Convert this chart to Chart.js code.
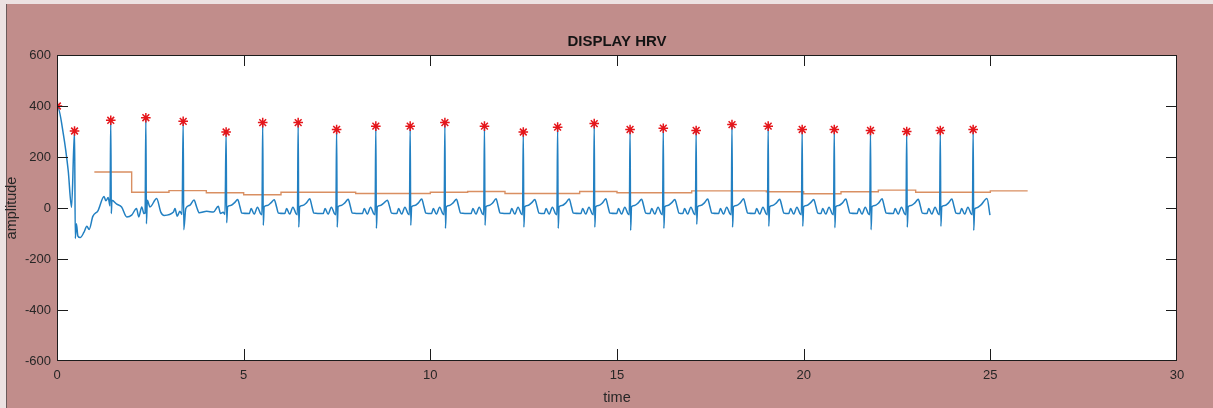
<!DOCTYPE html>
<html>
<head>
<meta charset="utf-8">
<title>DISPLAY HRV</title>
<script src="https://cdn.jsdelivr.net/npm/chart.js@4.4.1/dist/chart.umd.min.js"></script>
<style>
  html, body { margin: 0; padding: 0; background: #c18d8b; }
  canvas { display: block; }
</style>
</head>
<body>
<canvas id="hrvChart" width="1213" height="408"></canvas>
<script>
// ECG trace: [time (s), amplitude]
const ecgPoints = [
  [0.00,-580],[0.01,400],[0.17,290],[0.30,147],[0.39,3],[0.47,302],[0.49,-120],[0.52,-62],[0.56,-110],
  [0.62,-116],[0.72,-96],[0.80,-72],[0.86,-84],[0.96,-33],[1.10,-10],[1.26,45],[1.31,28],[1.37,41],[1.42,8],
  [1.44,344],[1.455,-22],[1.47,30],[1.60,15],[1.73,4],[1.87,-35],[2.00,-28],[2.13,-2],[2.19,-35],[2.27,4],[2.33,-22],[2.36,-20],
  [2.38,354],[2.395,-62],[2.42,30],[2.49,4],[2.67,37],[2.78,-16],[2.87,-29],[3.12,-16],[3.16,-2],[3.22,-32],[3.29,-13],[3.35,-25],
  [3.38,340],[3.395,-85],[3.45,-2],[3.56,11],[3.67,31],[3.74,4],[3.81,-19],[4.01,-13],[4.19,-16],[4.32,7],[4.38,-22],[4.45,-17],[4.50,-25],
  [4.53,298],[4.545,-58],[4.57,5],[4.65,10],[4.75,20],[4.84,33],[4.90,5],[4.95,-20],[5.15,-22],[5.20,-2],[5.28,-24],[5.37,3],[5.45,-22],[5.49,-26],
  [5.51,335],[5.525,-68],[5.55,5],[5.63,10],[5.73,20],[5.82,32],[5.88,5],[5.93,-20],[6.10,-22],[6.15,-2],[6.23,-24],[6.32,3],[6.40,-22],[6.44,-26],
  [6.46,335],[6.475,-75],[6.50,5],[6.58,10],[6.68,20],[6.77,36],[6.83,5],[6.88,-20],[7.13,-22],[7.18,-2],[7.26,-24],[7.35,3],[7.43,-22],[7.47,-26],
  [7.49,308],[7.505,-75],[7.53,5],[7.61,10],[7.71,20],[7.80,34],[7.86,5],[7.91,-20],[8.18,-22],[8.23,-2],[8.31,-24],[8.40,3],[8.48,-22],[8.52,-26],
  [8.54,321],[8.555,-80],[8.58,5],[8.66,10],[8.76,20],[8.85,30],[8.91,5],[8.96,-20],[9.10,-22],[9.15,-2],[9.23,-24],[9.32,3],[9.40,-22],[9.44,-26],
  [9.46,321],[9.475,-68],[9.50,5],[9.58,10],[9.68,20],[9.77,35],[9.83,5],[9.88,-20],[10.03,-22],[10.08,-2],[10.16,-24],[10.25,3],[10.33,-22],[10.37,-26],
  [10.39,335],[10.405,-80],[10.43,5],[10.51,10],[10.61,20],[10.70,34],[10.76,5],[10.81,-20],[11.09,-22],[11.14,-2],[11.22,-24],[11.31,3],[11.39,-22],[11.43,-26],
  [11.45,321],[11.465,-68],[11.49,5],[11.57,10],[11.67,20],[11.76,36],[11.82,5],[11.87,-20],[12.13,-22],[12.18,-2],[12.26,-24],[12.35,3],[12.43,-22],[12.47,-26],
  [12.49,298],[12.505,-75],[12.53,5],[12.61,10],[12.71,20],[12.80,33],[12.86,5],[12.91,-20],[13.05,-22],[13.10,-2],[13.18,-24],[13.27,3],[13.35,-22],[13.39,-26],
  [13.41,317],[13.425,-80],[13.45,5],[13.53,10],[13.63,20],[13.72,35],[13.78,5],[13.83,-20],[14.03,-22],[14.08,-2],[14.16,-24],[14.25,3],[14.33,-22],[14.37,-26],
  [14.39,331],[14.405,-75],[14.43,5],[14.51,10],[14.61,20],[14.70,36],[14.76,5],[14.81,-20],[14.99,-22],[15.04,-2],[15.12,-24],[15.21,3],[15.29,-22],[15.33,-26],
  [15.35,308],[15.365,-88],[15.39,5],[15.47,10],[15.57,20],[15.66,34],[15.72,5],[15.77,-20],[15.88,-22],[15.93,-2],[16.01,-24],[16.10,3],[16.18,-22],[16.22,-26],
  [16.24,313],[16.255,-80],[16.28,5],[16.36,10],[16.46,20],[16.55,33],[16.61,5],[16.66,-20],[16.76,-22],[16.81,-2],[16.89,-24],[16.98,3],[17.06,-22],[17.10,-26],
  [17.12,304],[17.135,-64],[17.16,5],[17.24,10],[17.34,20],[17.43,35],[17.49,5],[17.54,-20],[17.72,-22],[17.77,-2],[17.85,-24],[17.94,3],[18.02,-22],[18.06,-26],
  [18.08,327],[18.095,-75],[18.12,5],[18.20,10],[18.30,20],[18.39,36],[18.45,5],[18.50,-20],[18.69,-22],[18.74,-2],[18.82,-24],[18.91,3],[18.99,-22],[19.03,-26],
  [19.05,321],[19.065,-72],[19.09,5],[19.17,10],[19.27,20],[19.36,34],[19.42,5],[19.47,-20],[19.60,-22],[19.65,-2],[19.73,-24],[19.82,3],[19.90,-22],[19.94,-26],
  [19.96,308],[19.975,-72],[20.00,5],[20.08,10],[20.18,20],[20.27,33],[20.33,5],[20.38,-20],[20.46,-22],[20.51,-2],[20.59,-24],[20.68,3],[20.76,-22],[20.80,-26],
  [20.82,308],[20.835,-77],[20.86,5],[20.94,10],[21.04,20],[21.13,35],[21.19,5],[21.24,-20],[21.43,-22],[21.48,-2],[21.56,-24],[21.65,3],[21.73,-22],[21.77,-26],
  [21.79,304],[21.805,-85],[21.83,5],[21.91,10],[22.01,20],[22.10,36],[22.16,5],[22.21,-20],[22.40,-22],[22.45,-2],[22.53,-24],[22.62,3],[22.70,-22],[22.74,-26],
  [22.76,300],[22.775,-75],[22.80,5],[22.88,10],[22.98,20],[23.07,34],[23.13,5],[23.18,-20],[23.30,-22],[23.35,-2],[23.43,-24],[23.52,3],[23.60,-22],[23.64,-26],
  [23.66,304],[23.675,-72],[23.70,5],[23.78,10],[23.88,20],[23.97,35],[24.03,5],[24.08,-20],[24.18,-22],[24.23,-2],[24.31,-24],[24.40,3],[24.48,-22],[24.52,-26],
  [24.54,308],[24.555,-88],[24.58,-5],[24.62,0],[24.75,12],[24.91,37],[24.99,-28]
];

// R peaks (red asterisks)
const peakTime = [0.01,0.47,1.44,2.38,3.38,4.53,5.51,6.46,7.49,8.54,9.46,10.39,11.45,12.49,
  13.41,14.39,15.35,16.24,17.12,18.08,19.05,19.96,20.82,21.79,22.76,23.66,24.54];
const peakAmp = [400,302,344,354,340,298,335,335,308,321,321,335,321,298,
  317,331,308,313,304,327,321,308,308,304,300,304,308];

// heart rate steps (orange stairs)
const hrTime = [1,2,3,4,5,6,7,8,9,10,11,12,13,14,15,16,17,18,19,20,21,22,23,24,25,26];
const hrValue = [141,62,68,60,52,62,62,57,57,62,65,57,57,65,60,60,67,67,64,56,64,70,62,62,67,67];

const xTickValues = [0,5,10,15,20,25,30];
const yTickValues = [-600,-400,-200,0,200,400,600];

const FONT = "'Liberation Sans', Arial, Helvetica, sans-serif";
const TEXT = '#262626';

// figure background + white axes area
const figureBackground = {
  id: 'figureBackground',
  beforeDraw(chart) {
    const {ctx, width, height, chartArea: a} = chart;
    ctx.save();
    ctx.fillStyle = '#c18d8b';
    ctx.fillRect(0, 0, width, height);
    ctx.fillStyle = '#ece2e2';
    ctx.fillRect(0, 0, 6, height);
    ctx.fillRect(0, 0, width, 4);
    ctx.fillStyle = '#6b5a5a';
    ctx.fillRect(6, 4, 1, height - 4);
    ctx.fillStyle = '#ffffff';
    ctx.fillRect(a.left, a.top, a.right - a.left, a.bottom - a.top);
    ctx.restore();
  }
};

// MATLAB style box with inward ticks on all four sides
const axesBox = {
  id: 'axesBox',
  afterDraw(chart) {
    const {ctx, chartArea: a} = chart;
    const xs = chart.scales.x, ys = chart.scales.y;
    const L = Math.round(a.left), R = Math.round(a.right) - 1;
    const T = Math.round(a.top), B = Math.round(a.bottom) - 1;
    ctx.save();
    ctx.fillStyle = '#1c1c1c';
    xTickValues.forEach(v => {
      const px = Math.min(R, Math.round(xs.getPixelForValue(v)));
      ctx.fillRect(px, B - 11, 1, 11);
      ctx.fillRect(px, T, 1, 11);
    });
    yTickValues.forEach(v => {
      const py = Math.min(B, Math.round(ys.getPixelForValue(v)));
      ctx.fillRect(L, py, 11, 1);
      ctx.fillRect(R - 10, py, 11, 1);
    });
    ctx.fillRect(L, T, R - L + 1, 1);
    ctx.fillRect(L, B, R - L + 1, 1);
    ctx.fillRect(L, T, 1, B - T + 1);
    ctx.fillRect(R, T, 1, B - T + 1);
    ctx.restore();
  }
};

const ctx = document.getElementById('hrvChart').getContext('2d');
new Chart(ctx, {
  type: 'line',
  data: {
    datasets: [
      {
        label: 'peaks',
        data: peakTime.map((t, i) => ({x: t, y: peakAmp[i]})),
        showLine: false,
        pointStyle: 'star',
        pointRadius: 4.8,
        pointBorderWidth: 1.5,
        pointBorderColor: '#e5161b',
        pointBackgroundColor: '#e5161b'
      },
      {
        label: 'ecg',
        data: ecgPoints.map(p => ({x: p[0], y: p[1]})),
        borderColor: '#2280c2',
        borderWidth: 1.5,
        pointRadius: 0,
        cubicInterpolationMode: 'monotone',
        fill: false
      },
      {
        label: 'hr',
        data: hrTime.map((t, i) => ({x: t, y: hrValue[i]})),
        borderColor: '#d98f62',
        borderWidth: 1.4,
        pointRadius: 0,
        stepped: 'before',
        fill: false
      }
    ]
  },
  options: {
    responsive: false,
    animation: false,
    devicePixelRatio: 1,
    layout: { padding: { left: 0, right: 36, top: 0, bottom: 0 } },
    plugins: {
      legend: { display: false },
      tooltip: { enabled: false },
      title: {
        display: true,
        text: 'DISPLAY HRV',
        fullSize: false,
        color: '#141414',
        font: { family: FONT, size: 15, weight: 'bold', lineHeight: 1.2 },
        padding: { top: 33, bottom: 4 }
      }
    },
    scales: {
      x: {
        type: 'linear',
        min: 0,
        max: 30,
        grid: { display: false, drawTicks: false, tickLength: 0 },
        border: { display: false },
        afterBuildTicks: s => { s.ticks = xTickValues.map(v => ({value: v})); },
        afterFit: s => { s.height = 47; },
        ticks: { padding: 7, color: TEXT, maxRotation: 0, autoSkip: false, font: { family: FONT, size: 13 } },
        title: { display: true, text: 'time', color: TEXT, font: { family: FONT, size: 14.5 }, padding: { top: 0, bottom: 1 } }
      },
      y: {
        type: 'linear',
        min: -600,
        max: 600,
        grid: { display: false, drawTicks: false, tickLength: 0 },
        border: { display: false },
        afterBuildTicks: s => { s.ticks = yTickValues.map(v => ({value: v})); },
        afterFit: s => { s.width = 57; },
        ticks: { padding: 6, color: TEXT, autoSkip: false, font: { family: FONT, size: 13 } },
        title: { display: true, text: 'amplitude', color: TEXT, font: { family: FONT, size: 14.5 }, padding: { top: 3, bottom: 0 } }
      }
    }
  },
  plugins: [figureBackground, axesBox]
});
</script>
</body>
</html>
